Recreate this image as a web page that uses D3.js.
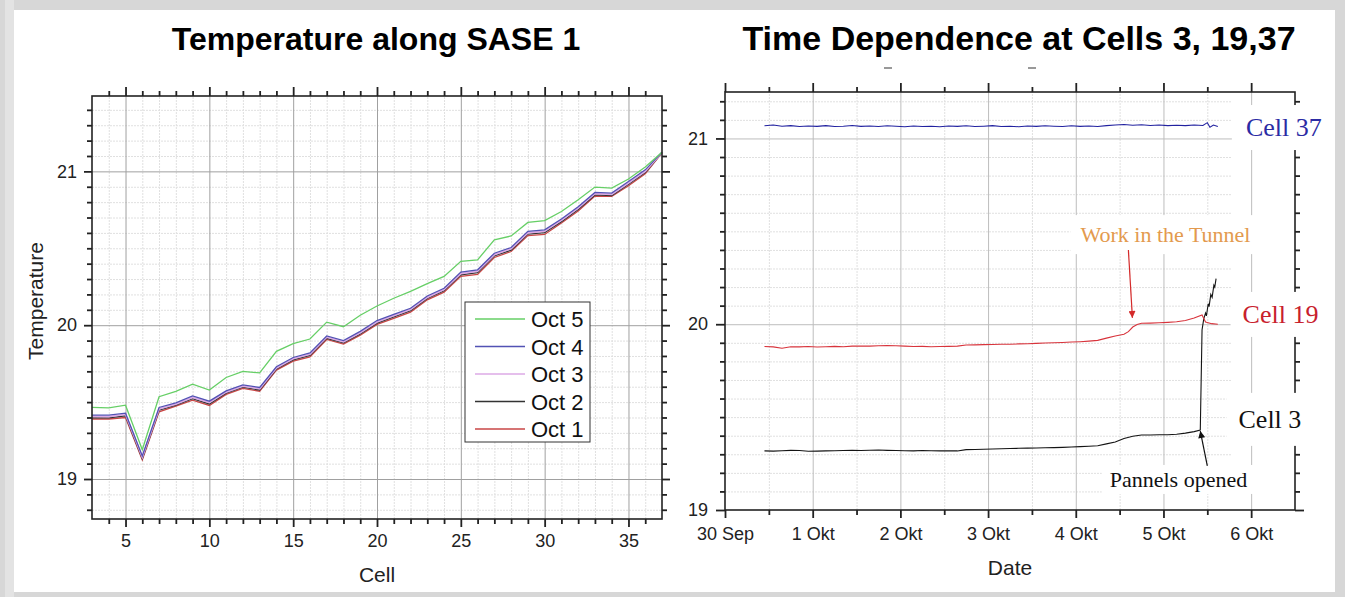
<!DOCTYPE html>
<html lang="en">
<head>
<meta charset="UTF-8">
<title>SASE 1 temperature</title>
<style>
  body{margin:0;background:#fff;}
  .title{font-family:'Liberation Sans',Arial,sans-serif;font-weight:700;font-size:32px;fill:#000;}
  .axis path{display:none;}
  .axis line{stroke:#222;stroke-width:1.8px;}
  .axis text{font-family:'Liberation Sans',Arial,sans-serif;font-size:18px;fill:#222;}
  .grid path{display:none;}
  .gridL.major line{stroke:#a0a0a0;stroke-width:1px;}
  .gridR.major line{stroke:#bdbdbd;stroke-width:1px;}
  .grid.minor line{stroke:#e0e0e0;stroke-width:1px;stroke-dasharray:2,1;}
  .frame{stroke:#222;stroke-width:1.6px;fill:none;}
  .axisLabel{font-family:'Liberation Sans',Arial,sans-serif;font-size:21px;fill:#222;}
  .legendText{font-family:'Liberation Sans',Arial,sans-serif;font-size:22px;fill:#111;}
  .note{font-family:'Liberation Serif','Times New Roman',serif;}
</style>
<script src="https://cdn.jsdelivr.net/npm/d3@7"></script>
</head>
<body>
<div class="container"></div>
<script>
  // ---- left chart data: temperature per cell ----
  var cells = [3,4,5,6,7,8,9,10,11,12,13,14,15,16,17,18,19,20,21,22,23,24,25,26,27,28,29,30,31,32,33,34,35,36,37];
  var oct5 = [19.466,19.463,19.480,19.190,19.535,19.570,19.617,19.578,19.660,19.700,19.690,19.830,19.880,19.910,20.020,19.990,20.065,20.125,20.175,20.220,20.270,20.317,20.415,20.425,20.555,20.580,20.668,20.680,20.739,20.815,20.898,20.891,20.950,21.028,21.125];
  var oct4 = [19.415,19.415,19.428,19.150,19.465,19.495,19.540,19.506,19.573,19.612,19.595,19.730,19.790,19.820,19.930,19.900,19.960,20.030,20.070,20.110,20.190,20.240,20.345,20.360,20.468,20.505,20.610,20.620,20.690,20.770,20.863,20.859,20.934,21.010,21.125];
  var oct3 = [19.407,19.406,19.420,19.142,19.456,19.487,19.531,19.497,19.565,19.604,19.587,19.722,19.782,19.811,19.922,19.892,19.951,20.021,20.062,20.102,20.181,20.232,20.336,20.351,20.459,20.497,20.601,20.611,20.682,20.761,20.855,20.851,20.925,21.001,21.123];
  var oct2 = [19.398,19.398,19.411,19.133,19.447,19.480,19.522,19.488,19.558,19.597,19.579,19.715,19.774,19.803,19.915,19.885,19.943,20.013,20.054,20.094,20.174,20.224,20.328,20.342,20.451,20.488,20.592,20.602,20.673,20.752,20.847,20.843,20.916,20.993,21.122];
  var oct1 = [19.390,19.390,19.400,19.125,19.437,19.474,19.513,19.478,19.550,19.589,19.571,19.708,19.766,19.794,19.907,19.877,19.935,20.005,20.045,20.085,20.165,20.215,20.318,20.330,20.440,20.479,20.583,20.590,20.664,20.742,20.840,20.837,20.906,20.984,21.120];
  var seriesNames = ['Oct 5','Oct 4','Oct 3','Oct 2','Oct 1'];
  var cellLabels = [5,10,15,20,25,30,35];
  var tempLabels = [19,20,21];

  // ---- right chart data: days since 30 Sep 00:00 ----
  var days37 = [0.45,0.55,0.65,0.75,0.85,0.95,1.05,1.15,1.25,1.35,1.45,1.55,1.65,1.75,1.85,1.95,2.05,2.15,2.25,2.35,2.45,2.55,2.65,2.75,2.85,2.95,3.05,3.15,3.25,3.35,3.45,3.55,3.65,3.75,3.85,3.95,4.05,4.15,4.25,4.35,4.45,4.55,4.65,4.75,4.85,4.95,5.05,5.15,5.25,5.35,5.45,5.50,5.53,5.57,5.62];
  var temps37 = [21.068,21.072,21.066,21.069,21.064,21.067,21.065,21.069,21.064,21.066,21.070,21.065,21.067,21.064,21.068,21.066,21.063,21.067,21.064,21.066,21.063,21.067,21.065,21.068,21.064,21.066,21.069,21.064,21.066,21.063,21.067,21.065,21.068,21.066,21.064,21.068,21.065,21.067,21.064,21.069,21.072,21.075,21.071,21.074,21.070,21.072,21.069,21.071,21.069,21.072,21.070,21.085,21.060,21.072,21.064];
  var days19 = [0.45,0.55,0.65,0.75,0.85,0.95,1.05,1.15,1.25,1.35,1.45,1.55,1.65,1.75,1.85,1.95,2.05,2.15,2.25,2.35,2.45,2.55,2.65,2.75,2.85,2.95,3.05,3.15,3.25,3.35,3.45,3.55,3.65,3.75,3.85,3.95,4.05,4.15,4.25,4.35,4.45,4.55,4.60,4.65,4.70,4.75,4.85,4.95,5.05,5.15,5.25,5.35,5.44,5.48,5.55,5.62];
  var temps19 = [19.880,19.878,19.871,19.879,19.878,19.880,19.877,19.879,19.881,19.879,19.882,19.883,19.882,19.884,19.885,19.884,19.882,19.880,19.881,19.879,19.880,19.881,19.882,19.888,19.889,19.890,19.891,19.892,19.892,19.894,19.895,19.897,19.899,19.900,19.902,19.904,19.906,19.909,19.913,19.925,19.937,19.946,19.960,19.985,19.998,20.005,20.006,20.008,20.010,20.013,20.020,20.033,20.050,20.012,20.003,20.000];
  var days3 = [0.45,0.55,0.65,0.75,0.85,0.95,1.05,1.15,1.25,1.35,1.45,1.55,1.65,1.75,1.85,1.95,2.05,2.15,2.25,2.35,2.45,2.55,2.65,2.75,2.85,2.95,3.05,3.15,3.25,3.35,3.45,3.55,3.65,3.75,3.85,3.95,4.05,4.15,4.25,4.35,4.45,4.55,4.65,4.75,4.85,4.95,5.05,5.15,5.25,5.35,5.42,5.43,5.44,5.46,5.48,5.49,5.51,5.52,5.54,5.555,5.575,5.585,5.60];
  var temps3 = [19.318,19.317,19.319,19.321,19.320,19.316,19.317,19.318,19.319,19.320,19.321,19.320,19.322,19.323,19.321,19.320,19.319,19.318,19.320,19.319,19.318,19.319,19.318,19.325,19.326,19.327,19.328,19.330,19.331,19.332,19.333,19.334,19.335,19.336,19.337,19.339,19.341,19.343,19.346,19.356,19.366,19.385,19.397,19.404,19.404,19.405,19.405,19.408,19.414,19.422,19.430,19.700,19.970,20.030,20.060,20.045,20.110,20.095,20.160,20.145,20.210,20.200,20.245];
  var dayTicks = [0,1,2,3,4,5,6];
  var dayLabels = ['30 Sep','1 Okt','2 Okt','3 Okt','4 Okt','5 Okt','6 Okt'];

  var svg = d3.select('.container').append('svg')
              .attr('width',1345).attr('height',597);
  // slide frame
  svg.append('rect').attr('width',1345).attr('height',597).attr('fill','#d7d7d7');
  svg.append('rect').attr('x',5).attr('y',0).attr('width',9).attr('height',597).attr('fill','#e3e3e3');
  svg.append('rect').attr('x',14).attr('y',10).attr('width',1321).attr('height',582).attr('fill','#fff');

  function tenths(lo,hi){ var a=[]; for(var i=lo;i<=hi;i++){ if(i%10) a.push(i/10); } return a; }
  var fmtInt = d3.format('d');

  // ================= left chart =================
  var mL = {left:92, top:96, right:662, bottom:519};
  var hL = mL.bottom - mL.top, wL = mL.right - mL.left;
  var xL = d3.scaleLinear().domain([3,37]).range([mL.left,mL.right]);
  var yL = d3.scaleLinear().domain([18.74,21.49]).range([mL.bottom,mL.top]);
  var minorCells = cells.filter(c => c%5 && c>3 && c<37);
  var minorTempsL = tenths(188,214);

  svg.append('g').attr('class','grid minor').attr('transform',`translate(0,${mL.bottom})`)
     .call(d3.axisBottom(xL).tickValues(minorCells).tickSize(-hL).tickFormat(''));
  svg.append('g').attr('class','grid minor').attr('transform',`translate(${mL.left},0)`)
     .call(d3.axisLeft(yL).tickValues(minorTempsL).tickSize(-wL).tickFormat(''));
  svg.append('g').attr('class','grid gridL major').attr('transform',`translate(0,${mL.bottom})`)
     .call(d3.axisBottom(xL).tickValues(cellLabels).tickSize(-hL).tickFormat(''));
  svg.append('g').attr('class','grid gridL major').attr('transform',`translate(${mL.left},0)`)
     .call(d3.axisLeft(yL).tickValues(tempLabels).tickSize(-wL).tickFormat(''));

  var colorsL = ['#66cf66','#5252b4','#dcaae6','#333333','#c94646'];
  var seriesL = [oct5,oct4,oct3,oct2,oct1];
  var lineL = d3.line().x((d,i)=>xL(cells[i])).y(d=>yL(d));
  [4,3,2,1,0].forEach(function(k){
    svg.append('path').attr('d',lineL(seriesL[k]))
       .attr('fill','none').attr('stroke',colorsL[k])
       .attr('stroke-width', k==2 ? 1.8 : 1.3);
  });

  // legend
  var lg = svg.append('g').attr('transform','translate(465,302)');
  lg.append('rect').attr('width',125).attr('height',140).attr('fill','#fff')
    .attr('stroke','#333').attr('stroke-width',1);
  seriesNames.forEach(function(n,i){
    var yy = 17 + i*27.5;
    lg.append('line').attr('x1',10).attr('x2',60).attr('y1',yy).attr('y2',yy)
      .attr('stroke',colorsL[i]).attr('stroke-width',1.5);
    lg.append('text').attr('class','legendText').attr('x',66).attr('y',yy+8).text(n);
  });

  // axes / ticks of left chart
  function ticks(g, axis){ g.attr('class','axis').call(axis); return g; }
  ticks(svg.append('g').attr('transform',`translate(0,${mL.bottom})`),
        d3.axisBottom(xL).tickValues(minorCells).tickSize(5).tickFormat(''));
  ticks(svg.append('g').attr('transform',`translate(0,${mL.bottom})`),
        d3.axisBottom(xL).tickValues(cellLabels).tickSize(8).tickPadding(7).tickFormat(fmtInt));
  ticks(svg.append('g').attr('transform',`translate(0,${mL.top})`),
        d3.axisTop(xL).tickValues(minorCells).tickSize(5).tickFormat(''));
  ticks(svg.append('g').attr('transform',`translate(0,${mL.top})`),
        d3.axisTop(xL).tickValues(cellLabels).tickSize(9).tickFormat(''));
  ticks(svg.append('g').attr('transform',`translate(${mL.left},0)`),
        d3.axisLeft(yL).tickValues(minorTempsL).tickSize(5).tickFormat(''));
  ticks(svg.append('g').attr('transform',`translate(${mL.left},0)`),
        d3.axisLeft(yL).tickValues(tempLabels).tickSize(8).tickPadding(7).tickFormat(fmtInt));
  ticks(svg.append('g').attr('transform',`translate(${mL.right},0)`),
        d3.axisRight(yL).tickValues(minorTempsL).tickSize(5).tickFormat(''));
  ticks(svg.append('g').attr('transform',`translate(${mL.right},0)`),
        d3.axisRight(yL).tickValues(tempLabels).tickSize(8).tickFormat(''));
  svg.append('rect').attr('class','frame').attr('x',mL.left).attr('y',mL.top)
     .attr('width',wL).attr('height',hL);

  svg.append('text').attr('class','title').attr('x',376).attr('y',50)
     .attr('text-anchor','middle').text('Temperature along SASE 1');
  svg.append('text').attr('class','axisLabel').attr('x',(mL.left+mL.right)/2).attr('y',582)
     .attr('text-anchor','middle').text('Cell');
  svg.append('text').attr('class','axisLabel').attr('transform','translate(43,301) rotate(-90)')
     .attr('text-anchor','middle').text('Temperature');

  // ================= right chart =================
  var mR = {left:725, top:92, right:1295, bottom:510};
  var hR = mR.bottom - mR.top;
  var xR = d3.scaleLinear().domain([0,6.5]).range([mR.left,mR.right]);
  var yR = d3.scaleLinear().domain([19,21.25]).range([mR.bottom,mR.top]);
  var halfDays = [0.5,1.5,2.5,3.5,4.5,5.5];
  var minorTempsR = tenths(191,212);
  var gridEnd = xR(5.78);

  svg.append('g').attr('class','grid minor').attr('transform',`translate(0,${mR.bottom})`)
     .call(d3.axisBottom(xR).tickValues(halfDays).tickSize(-hR).tickFormat(''));
  svg.append('g').attr('class','grid minor').attr('transform',`translate(${mR.left},0)`)
     .call(d3.axisLeft(yR).tickValues(minorTempsR).tickSize(-(gridEnd-mR.left)).tickFormat(''));
  svg.append('g').attr('class','grid gridR major').attr('transform',`translate(0,${mR.bottom})`)
     .call(d3.axisBottom(xR).tickValues(dayTicks.slice(1)).tickSize(-hR).tickFormat(''));
  svg.append('g').attr('class','grid gridR major').attr('transform',`translate(${mR.left},0)`)
     .call(d3.axisLeft(yR).tickValues([20,21]).tickSize(-(gridEnd-mR.left)).tickFormat(''));

  var lineR = d3.line().x(d=>xR(d[0])).y(d=>yR(d[1]));
  svg.append('path').attr('d',lineR(d3.zip(days3,temps3)))
     .attr('fill','none').attr('stroke','#141414').attr('stroke-width',1.1);
  svg.append('path').attr('d',lineR(d3.zip(days19,temps19)))
     .attr('fill','none').attr('stroke','#d8343c').attr('stroke-width',1.1);
  svg.append('path').attr('d',lineR(d3.zip(days37,temps37)))
     .attr('fill','none').attr('stroke','#2222a0').attr('stroke-width',1.1);

  // ticks of right chart
  ticks(svg.append('g').attr('transform',`translate(0,${mR.bottom})`),
        d3.axisBottom(xR).tickValues(halfDays).tickSize(5).tickFormat(''));
  ticks(svg.append('g').attr('transform',`translate(0,${mR.bottom})`),
        d3.axisBottom(xR).tickValues(dayTicks).tickSize(8).tickPadding(9)
          .tickFormat((d,i)=>dayLabels[i]));
  ticks(svg.append('g').attr('transform',`translate(0,${mR.top})`),
        d3.axisTop(xR).tickValues(halfDays).tickSize(5).tickFormat(''));
  ticks(svg.append('g').attr('transform',`translate(0,${mR.top})`),
        d3.axisTop(xR).tickValues(dayTicks).tickSize(9).tickFormat(''));
  ticks(svg.append('g').attr('transform',`translate(${mR.left},0)`),
        d3.axisLeft(yR).tickValues(minorTempsR).tickSize(5).tickFormat(''));
  ticks(svg.append('g').attr('transform',`translate(${mR.left},0)`),
        d3.axisLeft(yR).tickValues(tempLabels).tickSize(9).tickPadding(8).tickFormat(fmtInt));
  ticks(svg.append('g').attr('transform',`translate(${mR.right},0)`),
        d3.axisRight(yR).tickValues(minorTempsR).tickSize(5).tickFormat(''));
  ticks(svg.append('g').attr('transform',`translate(${mR.right},0)`),
        d3.axisRight(yR).tickValues(tempLabels).tickSize(9).tickFormat(''));
  svg.append('rect').attr('class','frame').attr('x',mR.left).attr('y',mR.top)
     .attr('width',mR.right-mR.left).attr('height',hR);

  // annotations with white boxes
  function boxedLabel(txt, day, temp, color, size, anchor, padX, padY){
    var g = svg.append('g');
    var t = g.append('text').attr('class','note')
             .attr('x',xR(day)).attr('y',yR(temp))
             .attr('text-anchor',anchor).style('font-size',size+'px')
             .attr('fill',color).text(txt);
    var b = t.node().getBBox();
    g.insert('rect','text').attr('x',b.x-padX).attr('y',b.y-padY)
     .attr('width',b.width+2*padX).attr('height',b.height+2*padY).attr('fill','#fff');
  }
  boxedLabel('Cell 37', 5.94, 21.013, '#2b2ba4', 26, 'start', 12, 8);
  boxedLabel('Cell 19', 5.902, 20.007, '#c8202c', 26, 'start', 12, 8);
  boxedLabel('Cell 3', 5.856, 19.442, '#111', 26, 'start', 12, 12);
  boxedLabel('Work in the Tunnel', 5.023, 20.442, '#e39a4e', 22, 'middle', 10, 7);
  boxedLabel('Pannels opened', 5.171, 19.124, '#111', 22, 'middle', 8, 2);

  var defs = svg.append('defs');
  function marker(id, color){
    defs.append('marker').attr('id',id).attr('viewBox','0 0 10 10')
        .attr('refX',10).attr('refY',5).attr('markerUnits','userSpaceOnUse')
        .attr('markerWidth',11).attr('markerHeight',7).attr('orient','auto')
        .append('path').attr('d','M0,0L10,5L0,10Z').attr('fill',color);
  }
  marker('arrRed','#d42a2a');
  marker('arrBlack','#111');
  svg.append('line').attr('x1',xR(4.60)).attr('y1',yR(20.40)).attr('x2',xR(4.646)).attr('y2',yR(20.034))
     .attr('stroke','#d42a2a').attr('stroke-width',1.2).attr('marker-end','url(#arrRed)');
  svg.append('line').attr('x1',xR(5.50)).attr('y1',yR(19.237)).attr('x2',xR(5.42)).attr('y2',yR(19.425))
     .attr('stroke','#111').attr('stroke-width',1.2).attr('marker-end','url(#arrBlack)');

  svg.append('text').attr('class','title').attr('x',1019).attr('y',50)
     .attr('text-anchor','middle').style('font-size','34px').text('Time Dependence at Cells 3, 19,37');
  svg.append('text').attr('class','axisLabel').attr('x',(mR.left+mR.right)/2).attr('y',575)
     .attr('text-anchor','middle').text('Date');
  // small marks under the right title
  [884,1028].forEach(function(x0){
    svg.append('line').attr('x1',x0).attr('x2',x0+8).attr('y1',68).attr('y2',68)
       .attr('stroke','#777').attr('stroke-width',1.5);
  });
</script>
</body>
</html>
